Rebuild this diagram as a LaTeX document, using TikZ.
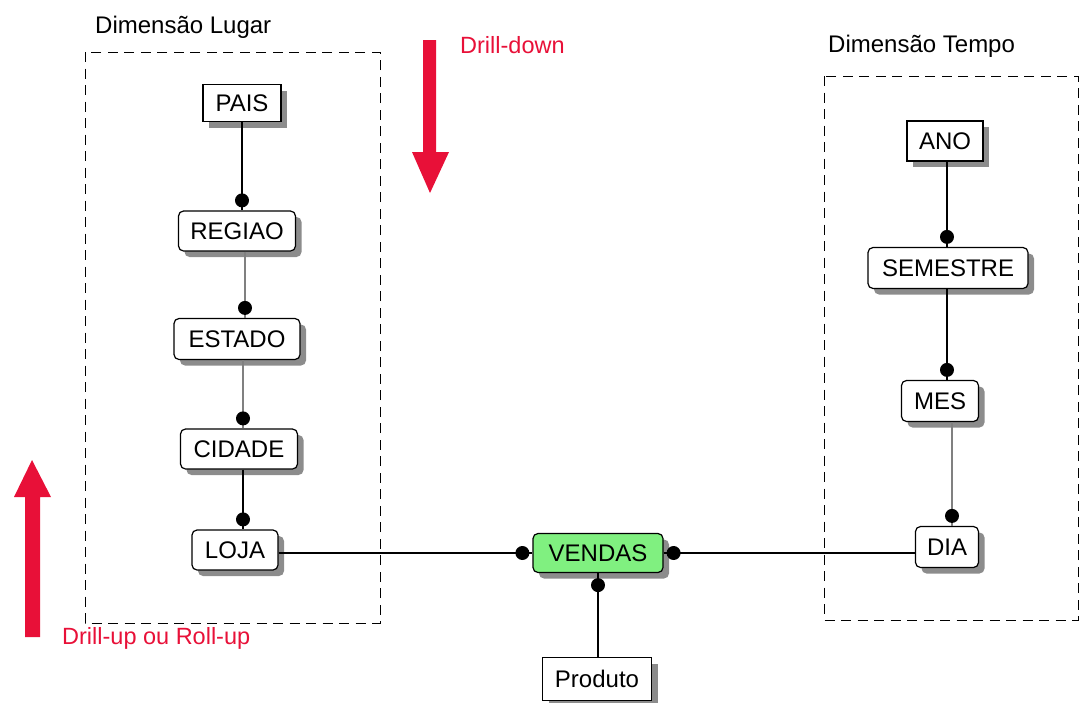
\documentclass[tikz,border=0pt]{standalone}
\usepackage{fontspec}
\setmainfont{Liberation Sans}
\usetikzlibrary{shadows}
\definecolor{drillred}{RGB}{232,16,56}
\definecolor{factgreen}{RGB}{128,240,128}
\definecolor{shadowgray}{RGB}{140,140,140}
\tikzset{
  x=1pt, y=-1pt,
  ent/.style={draw=black, line width=1.2pt, fill=white, inner sep=0pt,
    font=\fontsize{24}{27}\selectfont,
    drop shadow={shadow xshift=6pt, shadow yshift=-6pt, fill=shadowgray, opacity=1}},
  rent/.style={ent, rounded corners=5pt},
  strong/.style={draw=black, line width=1.4pt},
  weak/.style={draw=gray, line width=1.2pt},
  dimbox/.style={draw=black, line width=0.9pt, dash pattern=on 10pt off 6.5pt},
  dimlabel/.style={anchor=base west, inner sep=0pt, font=\fontsize{24}{27}\selectfont},
  redlabel/.style={anchor=base west, inner sep=0pt, text=drillred, font=\fontsize{23.5}{27}\selectfont},
  redarrow/.style={fill=drillred, draw=none},
}
\newcommand{\dotat}[1]{\fill[black] #1 circle (7pt);}
\begin{document}
\begin{tikzpicture}
\useasboundingbox (0,0) rectangle (1081,702);

% dimension boxes
\draw[dimbox] (85,52) rectangle (380,623);
\draw[dimbox] (824,76) rectangle (1078,620);
\node[dimlabel] (lugar) at (95,33) {Dimensão Lugar};
\node[dimlabel] (tempo) at (828,52) {Dimensão Tempo};

% red arrows
\fill[redarrow] (423,40) -- (436,40) -- (436,152) -- (449,152) -- (430,193) -- (412,152) -- (423,152) -- cycle;
\fill[redarrow] (25,637) -- (40,637) -- (40,497) -- (51,497) -- (32,460) -- (14,497) -- (25,497) -- cycle;
\node[redlabel] (down) at (460,53) {Drill-down};
\node[redlabel] (up) at (62,644) {Drill-up ou Roll-up};

% Lugar hierarchy
\node[ent, minimum width=78pt, minimum height=37pt] (pais) at (242,103) {PAIS};
\node[rent, minimum width=117pt, minimum height=40pt] (regiao) at (237,231) {REGIAO};
\node[rent, minimum width=126pt, minimum height=41pt] (estado) at (237,339) {ESTADO};
\node[rent, minimum width=117pt, minimum height=40pt] (cidade) at (239,449) {CIDADE};
\node[rent, minimum width=86pt, minimum height=40pt] (loja) at (235,550) {LOJA};

% Tempo hierarchy
\node[ent, minimum width=76pt, minimum height=40pt] (ano) at (945,141) {ANO};
\node[rent, minimum width=160pt, minimum height=41pt] (semestre) at (948,268) {SEMESTRE};
\node[rent, minimum width=77pt, minimum height=41pt] (mes) at (940,401) {MES};
\node[rent, minimum width=63pt, minimum height=41pt] (dia) at (947,547) {DIA};

% fact and product
\node[rent, fill=factgreen, minimum width=130pt, minimum height=39pt] (vendas) at (598,553) {VENDAS};
\node[ent, minimum width=109pt, minimum height=43pt] (produto) at (597,679) {Produto};

% connectors Lugar
\draw[strong] (pais.south) -- (pais.south |- regiao.north);
\dotat{([yshift=10pt]pais.south |- regiao.north)}
\draw[weak] ([xshift=8pt]regiao.south) -- ([xshift=8pt]regiao.south |- estado.north);
\dotat{([xshift=8pt,yshift=10pt]regiao.south |- estado.north)}
\draw[weak] ([xshift=6pt]estado.south) -- ([xshift=6pt]estado.south |- cidade.north);
\dotat{([xshift=6pt,yshift=10pt]estado.south |- cidade.north)}
\draw[strong] ([xshift=4pt]cidade.south) -- ([xshift=4pt]cidade.south |- loja.north);
\dotat{([xshift=4pt,yshift=10pt]cidade.south |- loja.north)}

% connectors Tempo
\draw[strong] ([xshift=2pt]ano.south) -- ([xshift=2pt]ano.south |- semestre.north);
\dotat{([xshift=2pt,yshift=10pt]ano.south |- semestre.north)}
\draw[strong] ([xshift=-1pt]semestre.south) -- ([xshift=-1pt]semestre.south |- mes.north);
\dotat{([xshift=-1pt,yshift=10pt]semestre.south |- mes.north)}
\draw[weak] ([xshift=12pt]mes.south) -- ([xshift=12pt]mes.south |- dia.north);
\dotat{([xshift=12pt,yshift=10pt]mes.south |- dia.north)}

% connectors to fact
\draw[strong] (vendas.west -| loja.east) -- (vendas.west);
\dotat{([xshift=-10pt]vendas.west)}
\draw[strong] (vendas.east) -- (vendas.east -| dia.west);
\dotat{([xshift=10pt]vendas.east)}
\draw[strong] (vendas.south) -- (vendas.south |- produto.north);
\dotat{([yshift=-12pt]vendas.south)}
\end{tikzpicture}
\end{document}
